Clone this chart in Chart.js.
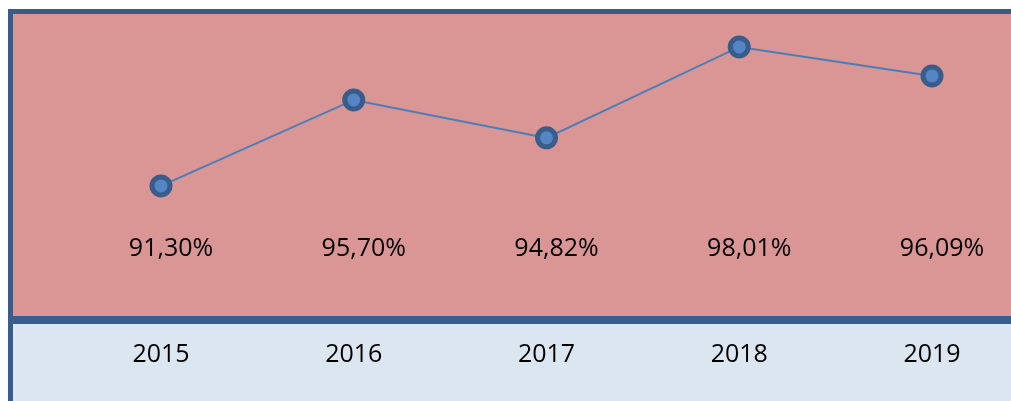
<!DOCTYPE html>
<html>
<head>
<meta charset="utf-8">
<script src="https://cdn.jsdelivr.net/npm/chart.js@4"></script>
<style>
  body { margin: 0; background: #fff; }
  canvas { display: block; }
</style>
</head>
<body>
<canvas id="chart" width="1011" height="401"></canvas>
<script>
const years = ['2015', '2016', '2017', '2018', '2019'];
// percentages printed in the row above the years
const rates = [91.30, 95.70, 94.82, 98.01, 96.09];
// height of the line as it sits in the picture (same % units)
const lineLevel = [91.30, 95.45, 93.62, 98.01, 96.61];

const borderBlue = '#385d8a';
const fontFamily = '"Open Sans", "Liberation Sans", sans-serif';

const formatRate = v => v.toFixed(2).replace('.', ',') + '%';

const tableBackground = {
    id: 'tableBackground',
    beforeDraw(chart) {
        const ctx = chart.ctx;
        const area = chart.chartArea;
        ctx.save();
        ctx.fillStyle = '#ffffff';
        ctx.fillRect(0, 0, chart.width, chart.height);
        // top row
        ctx.fillStyle = '#d99694';
        ctx.fillRect(13, 14, chart.width - 13, area.bottom - 14);
        // bottom row
        ctx.fillStyle = '#dce6f1';
        ctx.fillRect(13, area.bottom + 8, chart.width - 13, chart.height - area.bottom - 8);
        // borders
        ctx.fillStyle = borderBlue;
        ctx.fillRect(8, 9, chart.width - 8, 5);
        ctx.fillRect(8, 9, 5, chart.height - 9);
        ctx.fillRect(13, area.bottom, chart.width - 13, 8);
        ctx.restore();
    }
};

const rateRow = {
    id: 'rateRow',
    afterDatasetsDraw(chart) {
        const ctx = chart.ctx;
        const x = chart.scales.x;
        const rowY = chart.chartArea.bottom - 67;
        ctx.save();
        ctx.font = '25px ' + fontFamily;
        ctx.fillStyle = '#000';
        ctx.textAlign = 'center';
        ctx.textBaseline = 'middle';
        rates.forEach((v, i) => {
            ctx.fillText(formatRate(v), x.getPixelForValue(i) + 10, rowY);
        });
        ctx.restore();
    }
};

new Chart(document.getElementById('chart'), {
    type: 'line',
    data: {
        labels: years,
        datasets: [{
            data: lineLevel,
            borderColor: '#4a7ebb',
            borderWidth: 2,
            pointRadius: 9,
            pointBorderWidth: 5,
            pointBackgroundColor: '#5585c5',
            pointBorderColor: borderBlue,
            tension: 0,
            clip: false
        }]
    },
    options: {
        responsive: false,
        animation: false,
        events: [],
        layout: { padding: { left: 161, right: 79, top: 14, bottom: 7 } },
        plugins: {
            legend: { display: false },
            tooltip: { enabled: false }
        },
        scales: {
            x: {
                offset: false,
                border: { display: false },
                grid: { display: false, drawTicks: false },
                ticks: {
                    color: '#000',
                    padding: 24,
                    maxRotation: 0,
                    autoSkip: false,
                    font: { size: 25, family: fontFamily }
                }
            },
            y: {
                display: false,
                min: 85.02,
                max: 99.6
            }
        }
    },
    plugins: [tableBackground, rateRow]
});
</script>
</body>
</html>
